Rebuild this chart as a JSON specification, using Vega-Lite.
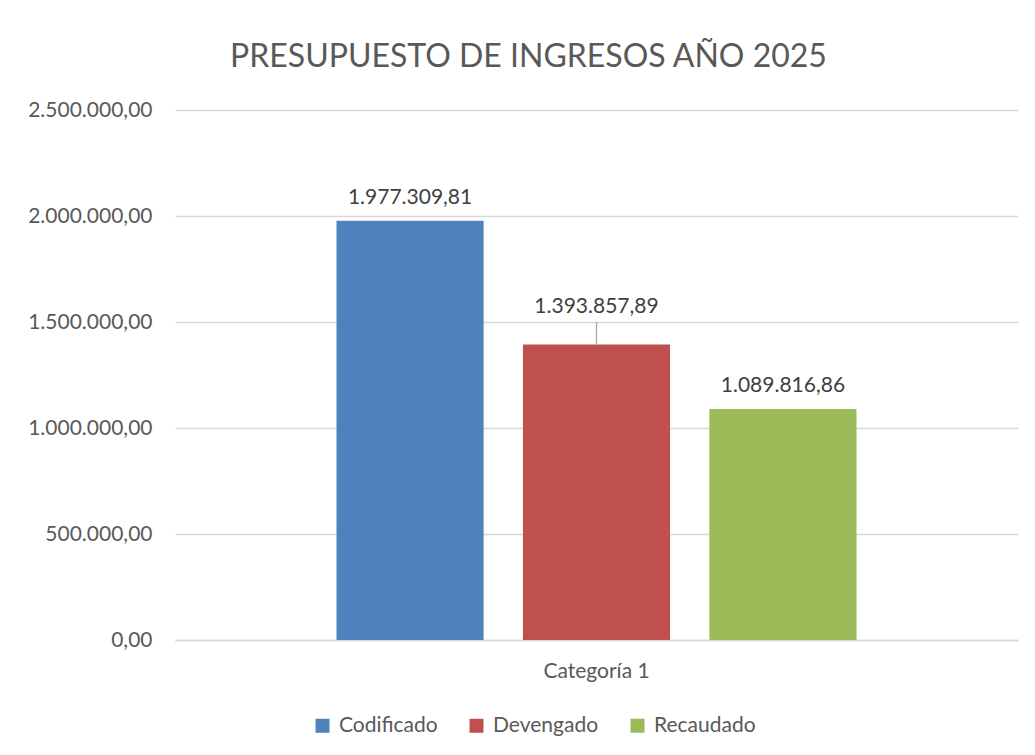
{
  "$schema": "https://vega.github.io/schema/vega-lite/v6.json",
  "width": 843,
  "height": 530,
  "autosize": {"type": "none"},
  "padding": {"left": 175, "top": 110, "right": 17, "bottom": 115},
  "background": "#FFFFFF",
  "config": {
    "locale": {"number": {"decimal": ",", "thousands": ".", "grouping": [3], "currency": ["", ""]}},
    "font": "Lato",
    "view": {"stroke": null}
  },
  "title": {
    "text": "PRESUPUESTO DE INGRESOS AÑO 2025",
    "font": "Lato",
    "fontSize": 32,
    "fontWeight": "normal",
    "color": "#595959",
    "anchor": "middle",
    "dx": -68,
    "offset": 25
  },
  "data": {
    "values": [
      {"categoria": "Categoría 1", "serie": "Codificado", "valor": 1977309.81},
      {"categoria": "Categoría 1", "serie": "Devengado", "valor": 1393857.89},
      {"categoria": "Categoría 1", "serie": "Recaudado", "valor": 1089816.86}
    ]
  },
  "encoding": {
    "x": {
      "field": "categoria",
      "type": "nominal",
      "scale": {"paddingInner": 0, "paddingOuter": 0.3106},
      "axis": {
        "title": null,
        "labelAngle": 0,
        "labelFontSize": 21,
        "labelColor": "#595959",
        "labelPadding": 20,
        "ticks": false,
        "domain": true,
        "domainColor": "#D9D9D9",
        "domainWidth": 1.3
      }
    },
    "xOffset": {
      "field": "serie",
      "type": "nominal",
      "sort": ["Codificado", "Devengado", "Recaudado"],
      "scale": {"paddingInner": 0.211, "paddingOuter": 0}
    }
  },
  "layer": [
    {
      "mark": {"type": "bar"},
      "encoding": {
        "y": {
          "field": "valor",
          "type": "quantitative",
          "scale": {"domain": [0, 2500000], "nice": false},
          "axis": {
            "title": null,
            "values": [0, 500000, 1000000, 1500000, 2000000, 2500000],
            "format": ",.2f",
            "labelFontSize": 21,
            "labelColor": "#595959",
            "labelPadding": 23,
            "ticks": false,
            "domain": false,
            "grid": true,
            "gridColor": "#D9D9D9",
            "gridWidth": 1.3
          }
        },
        "color": {
          "field": "serie",
          "type": "nominal",
          "sort": ["Codificado", "Devengado", "Recaudado"],
          "scale": {
            "domain": ["Codificado", "Devengado", "Recaudado"],
            "range": ["#4F81BD", "#C0504D", "#9BBB59"]
          },
          "legend": {
            "title": null,
            "orient": "none",
            "direction": "horizontal",
            "legendX": 137,
            "legendY": 605,
            "symbolType": "square",
            "symbolSize": 196,
            "symbolStrokeWidth": 0,
            "labelFontSize": 21,
            "labelColor": "#595959",
            "labelOffset": 6,
            "columnPadding": 28
          }
        }
      }
    },
    {
      "transform": [{"filter": "datum.serie === 'Devengado'"}],
      "mark": {"type": "rule", "color": "#A6A6A6", "strokeWidth": 1.3},
      "encoding": {
        "y": {"field": "valor", "type": "quantitative"},
        "y2": {"datum": 1500000}
      }
    },
    {
      "transform": [{"filter": "datum.serie !== 'Devengado'"}],
      "mark": {"type": "text", "fontSize": 21, "color": "#404040", "baseline": "alphabetic", "dy": -17},
      "encoding": {
        "y": {"field": "valor", "type": "quantitative"},
        "text": {"field": "valor", "type": "quantitative", "format": ",.2f"}
      }
    },
    {
      "transform": [{"filter": "datum.serie === 'Devengado'"}],
      "mark": {"type": "text", "fontSize": 21, "color": "#404040", "baseline": "alphabetic", "dy": -32},
      "encoding": {
        "y": {"field": "valor", "type": "quantitative"},
        "text": {"field": "valor", "type": "quantitative", "format": ",.2f"}
      }
    }
  ]
}
